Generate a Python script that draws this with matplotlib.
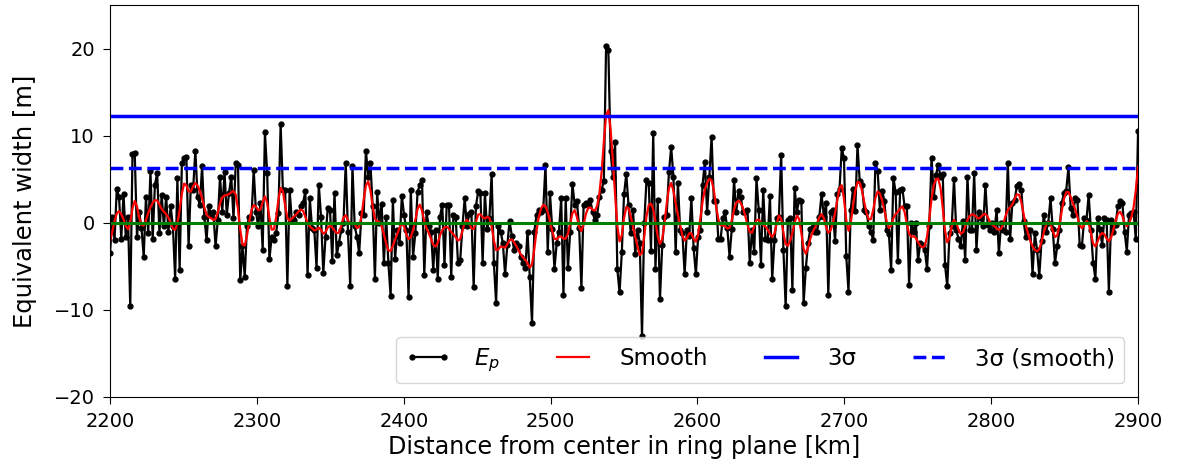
import numpy as np
import matplotlib

matplotlib.use("Agg")
import matplotlib.pyplot as plt

# equivalent width samples across the scan, 2200-2900 km
ep_width = [
    -3.5, 0.7, -2.0, 3.9, 3.0, -1.8, 3.3, -1.6, 0.7, -9.6, 7.9, 8.0, -1.6, 1.2, -0.6, -3.9,
    3.0, -1.2, 5.9, -1.8, 4.4, 5.7, -1.2, 3.2, -0.4, 3.0, -1.0, 1.9, -0.4, -6.4, 5.1,
    -5.4, 6.9, 7.4, 7.6, -2.7, 4.4, 3.8, 8.3, 3.0, 2.0, 6.5, 0.7, -2.0, 1.9, 0.9, 1.3,
    -2.7, 0.3, 5.3, 1.3, 5.8, 0.9, 3.4, 5.3, 0.5, 6.9, 6.7, -6.6, -2.7, -6.2, -0.4, 0.7,
    0.5, 6.1, 1.3, -0.4, 2.3, -3.1,
    10.4, 5.7, -4.2, -1.6, -2.0, -1.2, 1.1, 11.3, 3.8, 3.8, -7.2, 3.8, 0.2, 0.3, 1.2, 0.9,
    1.9, 2.3, 3.6, -6.0, 2.8, -0.6, -0.8, -5.2, 4.4, 0.7, -5.8, -1.6, 1.7, 1.5, -4.4, 3.4,
    -3.7, -2.3, -0.8, 0.0, 6.9,
    -1.0, -7.2, 6.5, -0.4, -1.6, -3.5, 1.1, 0.9, 8.3, 5.3, 6.9, 1.9, -6.4, 3.5, 0.0, 2.2,
    -4.6, 0.7, -4.6, -8.4, 2.6, -4.1, -0.8, -2.3, 3.1, 0.9, -0.8, -8.5, 3.8, -3.9, -1.2, 3.5,
    4.4, 4.9, -6.0, 1.2, -0.4, -1.0, -5.4,
    -0.8, -6.4, 0.7, 2.1, -4.8, 2.1, 2.1, -6.2, 0.9, 0.7, -4.6, -4.3, -0.4, 2.8, -0.4, 1.0,
    1.2, -7.4, 1.9, 3.6, 3.4, -4.6, 3.4, -0.7, 0.5, 5.6, -4.6, -9.2, -0.4, -1.0, -2.3, -5.9,
    -2.5, 0.2, -1.5, -3.1, -2.3, -2.7, -3.9, -4.6, -5.2, -1.0,
    -6.2, -11.5, -1.0, 0.9, 1.5, 1.3, 1.5, 6.7, -3.3, 3.4, -0.7, -5.3, -2.3, -1.0, 2.8, -8.3,
    2.8, -5.2, -1.0, 4.5, 2.1, 2.5, -0.6, -7.5, 2.1, 2.3, 2.1, 2.6, 1.2, 0.3, 0.9, 3.0,
    3.8, 4.8, 20.3, 19.9, 8.2, 5.3, 9.3,
    -5.3, -8.0, -3.4, 3.3, 5.6, 2.0, -1.2, 1.5, -3.6, -0.8, -2.3, -13.0, 0.0, 4.9, 4.6, -3.2,
    10.3, -5.3, 2.6, -8.8, -2.6, 0.7, 0.9, 5.8, 8.7, 5.3, -3.4, 4.6, -0.8, -1.2, -5.9, -0.8,
    -1.5, 2.8, -2.9, -5.9, -1.6, -0.8, 4.4,
    7.0, 1.2, 5.3, 9.9, 2.5, 2.5, -1.8, -1.9, 0.5, 1.2, -0.6, -3.9, -0.7, 4.9, 1.3, 3.6,
    3.0, 1.2, 1.2, 1.5, -4.6, -0.8, -3.4, 5.1, 1.5, -4.8, 3.8, -1.8, -2.0, 3.1, -6.5, -2.0,
    0.5, 0.7, 7.8, -3.1, -9.6,
    0.3, 0.5, -7.7, 4.0, 1.3, 2.6, 2.5, -9.2, -5.2, -2.3, -0.7, -0.5, -1.0, -1.0, 0.7, 3.3,
    0.7, 2.3, -8.3, 1.3, 1.5, -2.1, 3.3, 3.9, 8.6, 7.4, -3.8, -7.9, 1.5, 3.9, 1.4, 8.9,
    4.8, 4.4, 1.5, 1.3, -0.4, -1.0, -2.0, 6.9,
    5.9, 1.5, 3.7, 2.5, -0.8, -1.3, -5.4, 5.2, 3.5, -4.4, 3.8, 3.9, 1.9, 1.9, -7.1, 0.0,
    -1.0, 0.0, -4.3, -2.3, -2.5, -3.1, -5.3, -0.4, 7.5, 3.0, 5.5, 6.7, 5.3, 5.6, -4.8, -7.3,
    -1.2, -0.4, 5.0, -0.8, -1.8, -2.7, 0.2, -4.3, 5.3,
    -0.8, -0.8, 5.7, -3.1, 1.3, 0.5, -0.4, 4.4, -0.2, -0.8, 0.0, -1.0, 1.5, -3.5, 0.0, -0.8,
    -1.0, 6.9, -1.9, 2.3, 2.6, 4.2, 4.5, 3.8, 0.2, -1.6, -0.8, -0.8, -5.9, -1.2, -3.1, -6.1,
    -2.1, 0.9, -1.0, 0.0, 2.8, -0.7, -4.6,
    -2.7, -0.8, 2.3, 3.4, 3.7, 6.4, 1.7, 0.9, 2.8, 2.6, -2.5, -2.7, 0.5, 0.3, 3.2, -0.8,
    -4.6, -6.4, 0.5, -0.7, -2.5, 0.5, 0.3, -7.9, 0.3, -1.0, -0.2, 1.9, 2.5, 2.3, -1.0, -3.3,
    0.9, 1.1, 1.3, -1.9, 10.5,
]
r_start, r_end = 2200, 2900
sigma3 = 12.3
sigma3_smooth = 6.3

ep = np.array(ep_width)
radius = np.linspace(r_start, r_end, len(ep))

# gaussian smoothing over a few samples
kx = np.arange(-4, 5)
kernel = np.exp(-0.5 * (kx / 1.5) ** 2)
kernel /= kernel.sum()
padded = np.pad(ep, 4, mode="edge")
smooth = np.convolve(padded, kernel, mode="valid")

fig = plt.figure(figsize=(11.77, 4.72), dpi=100)
ax = fig.add_axes([0.0935, 0.159, 0.8734, 0.83])

ax.plot(radius, ep, color="black", marker="o", markersize=3.5, linewidth=1.6, label="$E_p$")
ax.plot(radius, smooth, color="red", linewidth=1.6, label="Smooth")
ax.axhline(sigma3, color="blue", linewidth=2.5, label="3σ")
ax.axhline(sigma3_smooth, color="blue", linewidth=2.5, linestyle="--", label="3σ (smooth)")
ax.axhline(0, color="green", linewidth=2.2)

ax.set_xlim(r_start, r_end)
ax.set_ylim(-20, 25)
ax.set_yticks([-20, -10, 0, 10, 20])
ax.tick_params(labelsize=14, length=5, pad=6)
ax.set_xlabel("Distance from center in ring plane [km]", fontsize=17.2, labelpad=3)
ax.set_ylabel("Equivalent width [m]", fontsize=17.5, labelpad=12)
ax.legend(loc="lower right", ncol=4, fontsize=16.5, numpoints=2,
          borderaxespad=0.6, handletextpad=1.0, columnspacing=2.2)

fig.savefig("out.png", dpi=100)
